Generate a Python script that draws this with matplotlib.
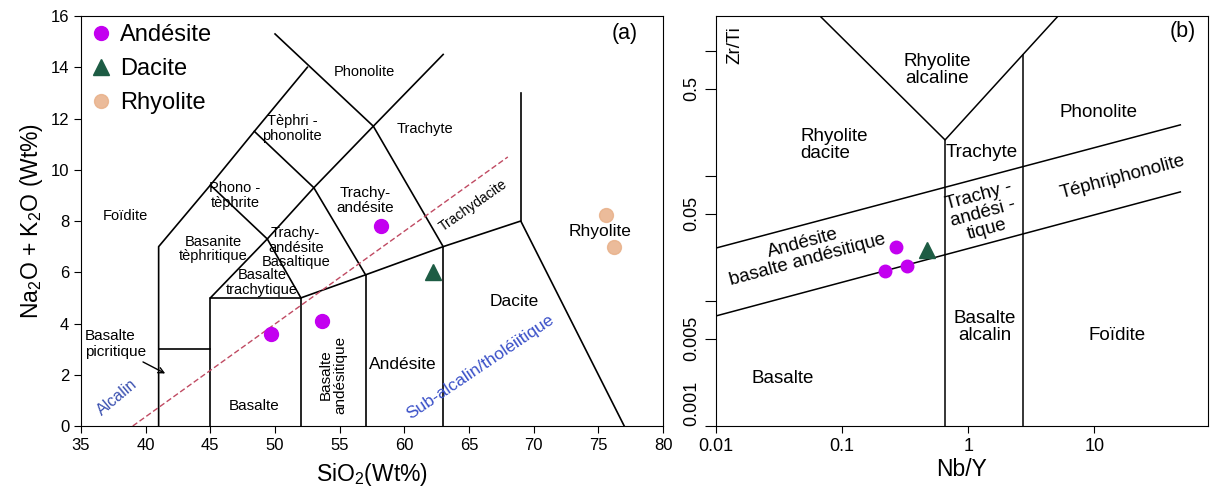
import matplotlib
matplotlib.use("Agg")
import matplotlib.pyplot as plt

plt.rcParams['font.family'] = ['Liberation Sans', 'DejaVu Sans']
plt.rcParams['mathtext.fontset'] = 'custom'
plt.rcParams['mathtext.rm'] = 'Liberation Sans'
plt.rcParams['mathtext.default'] = 'regular'

# --- (a) TAS diagram: samples
andesite_sio2 = [49.7, 53.6, 58.2]
andesite_alk = [3.6, 4.1, 7.8]
dacite_sio2 = [62.2]
dacite_alk = [6.0]
rhyolite_sio2 = [75.6, 76.2]
rhyolite_alk = [8.25, 7.0]

# --- (b) Nb/Y vs Zr/Ti: samples
andesite_nby = [0.269, 0.219, 0.328]
andesite_zrti = [0.0270, 0.0174, 0.0190]
dacite_nby = [0.473]
dacite_zrti = [0.0256]

# field boundaries (a)
tas_bounds = [
    [(41, 0), (41, 7), (45, 9.4), (48.4, 11.5), (52.5, 14)],
    [(41, 3), (45, 3)],
    [(45, 0), (45, 5), (52, 5), (52, 0)],
    [(45, 5), (49.4, 7.3), (52, 5)],
    [(52, 5), (57, 5.9), (63, 7), (69, 8), (77, 0)],
    [(57, 0), (57, 5.9)],
    [(63, 0), (63, 7)],
    [(69, 8), (69, 13)],
    [(45, 9.4), (49.4, 7.3)],
    [(48.4, 11.5), (53, 9.3), (57, 5.9)],
    [(49.4, 7.3), (53, 9.3), (57.6, 11.7), (63, 14.5)],
    [(50, 15.3), (57.6, 11.7), (63, 7)],
]
alk_line = [(39, 0), (68, 10.5)]

# field boundaries (b)
wf_bounds = [
    [(0.0668, 1.9), (0.656, 0.194), (5.17, 1.9)],
    [(0.656, 0.194), (0.656, 0.001)],
    [(2.73, 0.929), (2.73, 0.001)],
    [(0.01, 0.0265), (48.2, 0.256)],
    [(0.01, 0.00759), (48.2, 0.0745)],
]

# text, x, y, rotation, size
tas_labels = [
    ("Phonolite", 56.9, 13.8, 0, 10.5),
    ("Tèphri -\nphonolite", 51.3, 11.6, 0, 10.5),
    ("Trachyte", 61.6, 11.6, 0, 10.5),
    ("Phono -\ntèphrite", 46.9, 9.0, 0, 10.5),
    ("Trachy-\nandésite", 57.0, 8.8, 0, 11),
    ("Foïdite", 38.4, 8.2, 0, 10.5),
    ("Basanite\ntèphritique", 45.2, 6.9, 0, 10.5),
    ("Trachy-\nandésite\nBasaltique", 51.6, 6.95, 0, 10.5),
    ("Basalte\ntrachytique", 49.0, 5.6, 0, 10.5),
    ("Rhyolite", 75.1, 7.6, 0, 12.5),
    ("Dacite", 68.5, 4.85, 0, 12.5),
    ("Andésite", 59.9, 2.4, 0, 12.5),
    ("Basalte\nandésitique", 54.5, 2.0, 90, 11),
    ("Basalte", 48.4, 0.8, 0, 11),
]

wf_labels = [
    ("Rhyolite\nalcaline", 0.567, 0.705, 0),
    ("Trachyte", 1.29, 0.153, 0),
    ("Phonolite", 10.8, 0.319, 0),
    ("Téphriphonolite", 16.7, 0.098, 15),
    ("Trachy -\nandési -\ntique", 1.31, 0.0506, 15),
    ("Andésite\nbasalte andésitique", 0.0508, 0.0247, 15),
    ("Basalte", 0.034, 0.00242, 0),
    ("Basalte\nalcalin", 1.36, 0.0062, 0),
    ("Foïdite", 15.2, 0.00534, 0),
]

c_and = '#c300f0'
c_dac = '#1d5c44'
c_rhy = '#e8b088'

fig = plt.figure(figsize=(12.15, 4.9), dpi=100)

# ---------------- (a)
ax = fig.add_axes([0.0667, 0.1306, 0.479, 0.8367])
for seg in tas_bounds:
    ax.plot([p[0] for p in seg], [p[1] for p in seg], color='black', lw=1.2)
ax.plot([p[0] for p in alk_line], [p[1] for p in alk_line], color='#c04a62', lw=1, ls=(0, (4, 2)))

for t, x, y, r, s in tas_labels:
    ax.text(x, y, t, ha='center', va='center', fontsize=s, rotation=r, linespacing=1.05)
ax.text(35.3, 3.2, "Basalte\npicritique", ha='left', va='center', fontsize=11, linespacing=1.1)
ax.annotate("", xy=(41.7, 2.0), xytext=(39.6, 2.55),
            arrowprops=dict(arrowstyle='->', color='black', lw=1))
ax.text(37.8, 1.1, "Alcalin", color='#3a50b0', fontsize=11.5, rotation=40, ha='center', va='center')
ax.text(65.9, 2.3, "Sub-alcalin/tholéiitique", color='#3a50c8', fontsize=12.5, rotation=34,
        ha='center', va='center')
ax.text(65.3, 8.6, "Trachydacite", fontsize=10, rotation=35, ha='center', va='center')
ax.text(77.0, 15.3, "(a)", fontsize=15.5, ha='center', va='center')

ax.plot(andesite_sio2, andesite_alk, 'o', color=c_and, ms=10, label='Andésite')
ax.plot(dacite_sio2, dacite_alk, '^', color=c_dac, ms=12, label='Dacite')
ax.plot(rhyolite_sio2, rhyolite_alk, 'o', color=c_rhy, ms=10, alpha=0.85, label='Rhyolite')

ax.set_xlim(35, 80)
ax.set_ylim(0, 16)
ax.set_xticks(range(35, 81, 5))
ax.set_yticks(range(0, 17, 2))
ax.tick_params(labelsize=12, length=5, direction='out')
ax.set_xlabel("SiO$_2$(Wt%)", fontsize=16.5, labelpad=6)
ax.set_ylabel("Na$_2$O + K$_2$O (Wt%)", fontsize=16.5, labelpad=4)
ax.legend(loc='upper left', frameon=False, fontsize=17, handletextpad=0.3,
          labelspacing=0.5, borderaxespad=0.15, handlelength=1.0, borderpad=0.2)

# ---------------- (b)
bx = fig.add_axes([0.5893, 0.1306, 0.405, 0.8367])
bx.set_xscale('log')
bx.set_yscale('log')
for seg in wf_bounds:
    bx.plot([p[0] for p in seg], [p[1] for p in seg], color='black', lw=1.1)
for t, x, y, r in wf_labels:
    bx.text(x, y, t, ha='center', va='center', fontsize=13.5, rotation=r,
            rotation_mode='anchor', linespacing=1.05)
bx.text(0.0464, 0.177, "Rhyolite\ndacite", ha='left', va='center', fontsize=13.5, linespacing=1.05)
bx.text(50.8, 1.42, "(b)", fontsize=15.5, ha='center', va='center')
bx.text(0.039, 0.93, "Zr/Ti", transform=bx.transAxes, rotation=90, fontsize=13.5,
        ha='center', va='center')

bx.plot(andesite_nby, andesite_zrti, 'o', color=c_and, ms=9)
bx.plot(dacite_nby, dacite_zrti, '^', color=c_dac, ms=11)

bx.set_xlim(0.01, 80)
bx.set_ylim(0.001, 1.9)
bx.set_xticks([0.01, 0.1, 1, 10])
bx.set_xticklabels(['0.01', '0.1', '1', '10'])
bx.set_yticks([0.001, 0.005, 0.01, 0.05, 0.1, 0.5, 1])
bx.set_yticklabels(['0.001', '0.005', '', '0.05', '', '0.5', ''])
bx.minorticks_off()
bx.tick_params(axis='x', labelsize=13, length=5)
bx.tick_params(axis='y', labelsize=13, length=8, rotation=90)
for lab in bx.get_yticklabels():
    lab.set_va('center')
bx.get_yticklabels()[0].set_va('bottom')
bx.set_xlabel("Nb/Y", fontsize=16.5, labelpad=2)

fig.savefig("out.png", dpi=100)
